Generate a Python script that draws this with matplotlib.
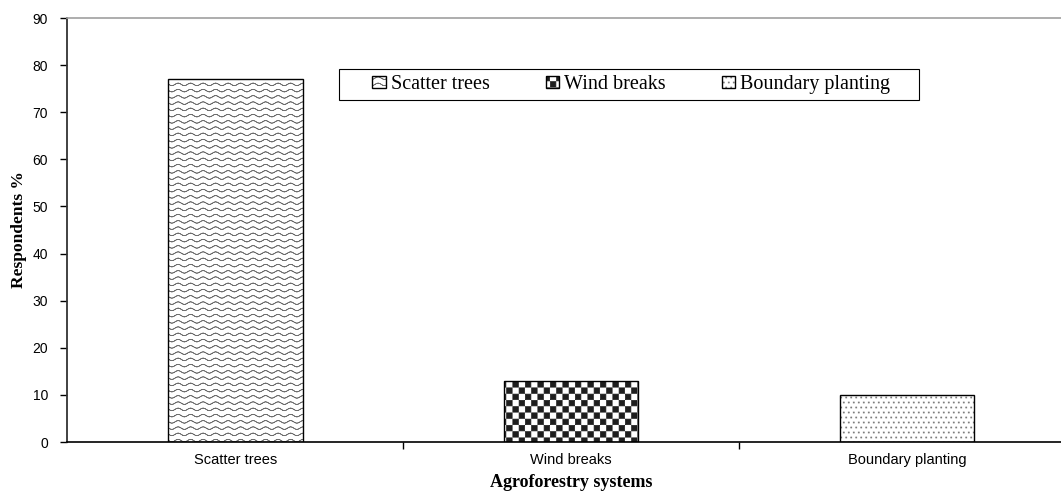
import warnings
import numpy as np
import matplotlib
matplotlib.use('Agg')
import matplotlib.pyplot as plt
import matplotlib.hatch as mhatch
import matplotlib.patches as patches
from matplotlib.path import Path

warnings.filterwarnings('ignore')

# data
systems = ['Scatter trees', 'Wind breaks', 'Boundary planting']
respondents = [77, 13, 10]

# hatch styles for each bar ('~' waves, '#' checker, ':' dots)
bar_hatches = ['~~', '#', ':']
hatch_colors = ['#6e6e6e', '#1e1e1e', '#7a7a7a']


# --- custom hatch patterns (unit square, tiled by the backend) ---
class WaveHatch(mhatch.HatchPatternBase):
    def __init__(self, hatch, density):
        self.num_rows = hatch.count('~') * 8
        self.num_pts = 8 * 8 + 1
        self.num_vertices = self.num_rows * self.num_pts * 2

    def set_vertices_and_codes(self, vertices, codes):
        xs = np.linspace(0, 1, self.num_pts)
        k = 0
        for r in range(self.num_rows):
            y0 = (r + 0.5) / self.num_rows
            ys = y0 + 0.013 * np.sin(2 * np.pi * 8 * xs)
            pts = np.column_stack([xs, ys])
            # forward then back, so the filled area is zero
            pts = np.vstack([pts, pts[::-1]])
            n = len(pts)
            vertices[k:k + n] = pts
            codes[k:k + n] = Path.LINETO
            codes[k] = Path.MOVETO
            k += n


class CheckerHatch(mhatch.HatchPatternBase):
    def __init__(self, hatch, density):
        self.num_cells = hatch.count('#') * 16
        self.num_vertices = (self.num_cells ** 2 // 2) * 5

    def set_vertices_and_codes(self, vertices, codes):
        n = self.num_cells
        s = 1.0 / n
        d = 0.0035
        sq = np.array([[d, d], [s - d, d], [s - d, s - d], [d, s - d], [d, d]])
        sq_codes = [Path.MOVETO, Path.LINETO, Path.LINETO, Path.LINETO,
                    Path.CLOSEPOLY]
        k = 0
        for i in range(n):
            for j in range(n):
                if (i + j) % 2 == 0:
                    vertices[k:k + 5] = sq + [i * s, j * s]
                    codes[k:k + 5] = sq_codes
                    k += 5


class DotHatch(mhatch.HatchPatternBase):
    def __init__(self, hatch, density):
        self.num_rows = hatch.count(':') * 20
        self.num_vertices = self.num_rows ** 2 * 5

    def set_vertices_and_codes(self, vertices, codes):
        n = self.num_rows
        s = 1.0 / n
        d = 0.005
        sq = np.array([[-d, -d], [d, -d], [d, d], [-d, d], [-d, -d]])
        sq_codes = [Path.MOVETO, Path.LINETO, Path.LINETO, Path.LINETO,
                    Path.CLOSEPOLY]
        k = 0
        for r in range(n):
            off = 0.25 * s if r % 2 == 0 else 0.75 * s
            for c in range(n):
                vertices[k:k + 5] = sq + [c * s + off, (r + 0.5) * s]
                codes[k:k + 5] = sq_codes
                k += 5


mhatch._hatch_types.extend([WaveHatch, CheckerHatch, DotHatch])

plt.rcParams['hatch.linewidth'] = 0.5
plt.rcParams['font.family'] = ['Liberation Sans', 'DejaVu Sans']

fig = plt.figure(figsize=(10.61, 4.93), dpi=100)
ax = fig.add_axes([0.0636, 0.1034, 0.9496, 0.860])

x = np.arange(len(systems))
handles = []
for i in range(len(systems)):
    b = ax.bar(x[i], respondents[i], width=0.4, color='white',
               edgecolor=hatch_colors[i], linewidth=0,
               hatch=bar_hatches[i], zorder=2)
    o = ax.bar(x[i], respondents[i], width=0.4, fill=False,
               edgecolor='black', linewidth=1.0, zorder=3)
    handles.append((b.patches[0], o.patches[0]))

ax.set_xlim(-0.5, 2.5)
ax.set_ylim(0, 90)
ax.set_yticks(np.arange(0, 91, 10))
ax.set_xticks(x)
ax.set_xticklabels(systems)
ax.set_xticks([0.5, 1.5], minor=True)

ax.tick_params(axis='y', length=5, width=1, labelsize=10, pad=9)
ax.tick_params(axis='x', which='major', length=0, labelsize=10.5, pad=8)
ax.tick_params(axis='x', which='minor', length=5, width=1)

ax.spines['top'].set_color('#a0a0a0')
ax.spines['top'].set_linewidth(1.2)
ax.spines['left'].set_color('#333333')
ax.spines['left'].set_linewidth(1.3)
ax.spines['bottom'].set_linewidth(1.2)
ax.spines['right'].set_color('#a0a0a0')

ax.set_ylabel('Respondents %', family='Liberation Serif', fontsize=12.5,
              fontweight='bold', labelpad=4)
ax.set_xlabel('Agroforestry systems', family='Liberation Serif',
              fontsize=13, fontweight='bold', labelpad=5)

# legend box is wider than its content, so the frame is drawn separately
leg_box = patches.Rectangle((0.3195, 0.7972), 0.5467, 0.0629,
                            transform=fig.transFigure, facecolor='white',
                            edgecolor='black', linewidth=0.8, zorder=4)
fig.patches.append(leg_box)

leg = ax.legend(handles, systems, loc='center',
                bbox_to_anchor=(0.595, 0.8286), bbox_transform=fig.transFigure,
                ncol=3, frameon=False,
                prop={'family': 'Liberation Serif', 'size': 14.5},
                handlelength=0.65, handleheight=0.5, handletextpad=0.25,
                columnspacing=2.8, borderpad=0.2)
leg.set_zorder(5)
leg.remove()
fig.add_artist(leg)

fig.savefig('out.png', dpi=100)
